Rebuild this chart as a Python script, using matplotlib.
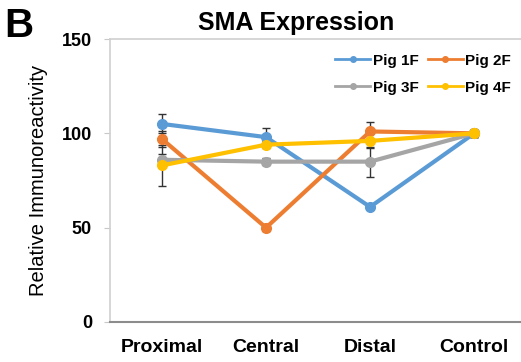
import matplotlib
matplotlib.use('Agg')
import matplotlib.pyplot as plt
from matplotlib.lines import Line2D
import numpy as np

plt.rcParams['font.family'] = ['Liberation Sans', 'DejaVu Sans']

regions = ['Proximal', 'Central', 'Distal', 'Control']
pigs = ['Pig 1F', 'Pig 2F', 'Pig 3F', 'Pig 4F']

pig1 = [105, 98, 61, 100]
pig2 = [97, 50, 101, 100]
pig3 = [86, 85, 85, 100]
pig4 = [83, 94, 96, 100]

err1 = [5, 5, 1, 2]
err2 = [4, 2, 5, 2]
err3 = [3, 2, 8, 2]
err4 = [11, 2, 4, 2]

colors = ['#5B9BD5', '#ED7D31', '#A5A5A5', '#FFC000']

fig = plt.figure(figsize=(5.21, 3.62), dpi=100)
ax = fig.add_axes([0.211, 0.1105, 0.789, 0.7817])

x = np.arange(len(regions))
handles = []
for name, vals, errs, c in zip(pigs, [pig1, pig2, pig3, pig4],
                                [err1, err2, err3, err4], colors):
    ax.errorbar(x, vals, yerr=errs, color=c, lw=3, marker='o', ms=7,
                ecolor='#333333', elinewidth=1, capsize=3, capthick=1)
    handles.append(Line2D([], [], color=c, lw=2, marker='o', ms=4, label=name))

ax.set_xlim(-0.5, 3.45)
ax.set_ylim(0, 150)
ax.set_yticks([0, 50, 100, 150])
ax.set_xticks(x, regions)
ax.tick_params(axis='x', length=0, pad=12, labelsize=14)
ax.tick_params(axis='y', length=4, color='#c8c8c8', pad=9, labelsize=13)
for lab in ax.get_xticklabels() + ax.get_yticklabels():
    lab.set_fontweight('bold')
ax.spines['right'].set_visible(False)
for s in ['left', 'top']:
    ax.spines[s].set_color('#d0d0d0')
    ax.spines[s].set_linewidth(1.2)
ax.spines['bottom'].set_color('#8c8c8c')
ax.spines['bottom'].set_linewidth(1.5)

ax.set_ylabel('Relative Immunoreactivity', fontsize=14.5, labelpad=10)
fig.text(0.568, 0.917, 'SMA Expression', fontsize=18, fontweight='bold',
         ha='center', va='baseline')
fig.text(0.008, 0.898, 'B', fontsize=29, fontweight='bold', va='baseline')

# row-major order like the original legend
order = [0, 2, 1, 3]
leg = ax.legend([handles[i] for i in order], [pigs[i] for i in order],
                loc='upper right', ncol=2, frameon=False, fontsize=11,
                handlelength=2.3, columnspacing=0.6, handletextpad=0.15,
                labelspacing=0.85, borderaxespad=0,
                bbox_to_anchor=(0.99, 0.97))
for t in leg.get_texts():
    t.set_fontweight('bold')

fig.savefig('out.png', dpi=100)
